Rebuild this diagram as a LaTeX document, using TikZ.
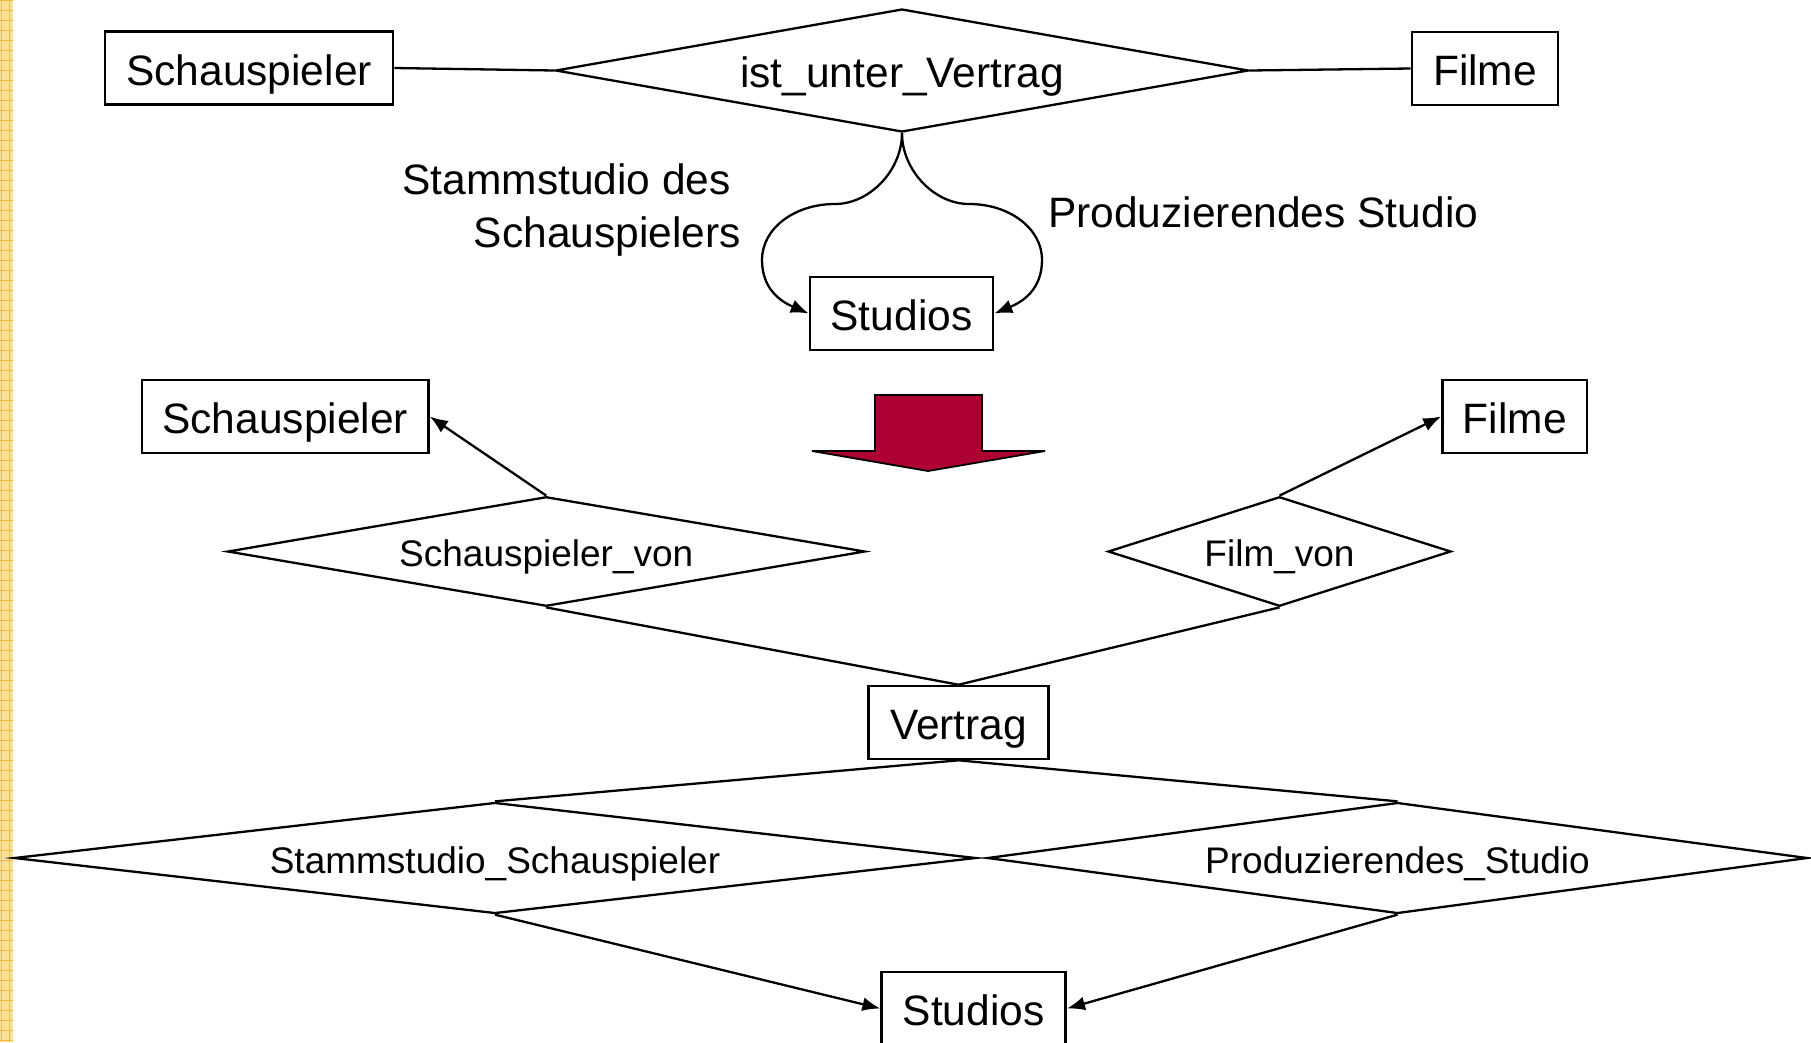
\documentclass[tikz,border=0pt]{standalone}
\usepackage{fontspec}
\setmainfont{Liberation Sans}
\usetikzlibrary{shapes.geometric,arrows.meta}
\definecolor{stripebg}{RGB}{252,226,150}
\definecolor{stripeln}{RGB}{246,183,60}
\definecolor{bigarrow}{RGB}{173,0,51}
\tikzset{
  bigfont/.style={font=\fontsize{42.5}{51}\selectfont, text height=34pt, text depth=0pt},
  smallfont/.style={font=\fontsize{37}{44}\selectfont, text height=30pt, text depth=0pt},
  ebox/.style={draw, line width=2.6pt, rectangle, bigfont, inner sep=0pt,
    minimum height=73pt},
  rel/.style={draw, line width=2.3pt, diamond, inner sep=0pt},
  conn/.style={line width=2.3pt},
  arr/.style={line width=2.3pt, -{Latex[length=18pt,width=14pt]}},
  lbl/.style={font=\fontsize{42.5}{51}\selectfont, inner sep=0pt}
}
\begin{document}
\begin{tikzpicture}[x=1pt,y=-1pt]
\useasboundingbox (0,0) rectangle (1811,1042);
\fill[white] (0,0) rectangle (1811,1042);
% left decorative stripe
\fill[stripebg] (0,0) rectangle (13,1042);
\foreach \yy in {0,10,...,1040} \draw[stripeln, line width=0.8pt] (0,\yy) -- (13,\yy);
\foreach \xx in {1,9} \draw[stripeln, line width=0.8pt] (\xx,0) -- (\xx,1042);

% ---------- top part ----------
\node[ebox, minimum width=288pt] (s1) at (249,68) {Schauspieler};
\node[rel, bigfont, minimum width=693pt, minimum height=123pt, shape aspect=5.63] (r1) at (902,70.5) {ist\_unter\_Vertrag};
\node[ebox, minimum width=146pt] (f1) at (1485,68.5) {Filme};
\node[ebox, minimum width=183pt] (st1) at (901.5,313.5) {Studios};

\draw[conn] (s1.east) -- (r1.west);
\draw[conn] (r1.east) -- (f1.west);

\draw[arr] (r1.south) .. controls (902,170) and (870,204) .. (835,204)
  .. controls (795,204) and (762,228) .. (762,260)
  .. controls (762,290) and (782,302) .. (st1.west);
\draw[arr] (r1.south) .. controls (902,170) and (934,204) .. (969,204)
  .. controls (1009,204) and (1042,228) .. (1042,260)
  .. controls (1042,290) and (1022,302) .. (st1.east);

\node[lbl, anchor=base east] (la) at (731,194) {Stammstudio des};
\node[lbl, anchor=base east] (lb) at (741,247) {Schauspielers};
\node[lbl, anchor=base west] (lc) at (1048,227) {Produzierendes Studio};

% big arrow
\draw[fill=bigarrow, line width=1.8pt, line join=miter]
  (875,395) -- (982,395) -- (982,451) -- (1045,451) -- (928,471) -- (812,451) -- (875,451) -- cycle;

% ---------- bottom part ----------
\node[ebox, minimum width=286.5pt] (s2) at (285.25,416.5) {Schauspieler};
\node[ebox, minimum width=144.5pt] (f2) at (1514.75,416.5) {Filme};
\node[rel, smallfont, minimum width=637.5pt, minimum height=109.5pt, shape aspect=5.82] (r2) at (546.25,551.5) {Schauspieler\_von};
\node[rel, smallfont, minimum width=343pt, minimum height=109.5pt, shape aspect=3.13] (r3) at (1279.5,551.5) {Film\_von};
\node[ebox, minimum width=180pt] (v) at (958.5,722.5) {Vertrag};
\node[rel, smallfont, minimum width=962pt, minimum height=111pt, shape aspect=8.67] (r4) at (495,858) {Stammstudio\_Schauspieler};
\node[rel, smallfont, minimum width=820pt, minimum height=111pt, shape aspect=7.39] (r5) at (1397.5,858) {Produzierendes\_Studio};
\node[ebox, minimum width=184pt] (st2) at (973.7,1008.5) {Studios};

\draw[arr] (r2.north) -- (s2.east);
\draw[arr] (r3.north) -- (f2.west);
\draw[conn] (r2.south) -- (v.north);
\draw[conn] (r3.south) -- (v.north);
\draw[conn] (v.south) -- (r4.north);
\draw[conn] (v.south) -- (r5.north);
\draw[arr] (r4.south) -- (st2.west);
\draw[arr] (r5.south) -- (st2.east);
\end{tikzpicture}
\end{document}
